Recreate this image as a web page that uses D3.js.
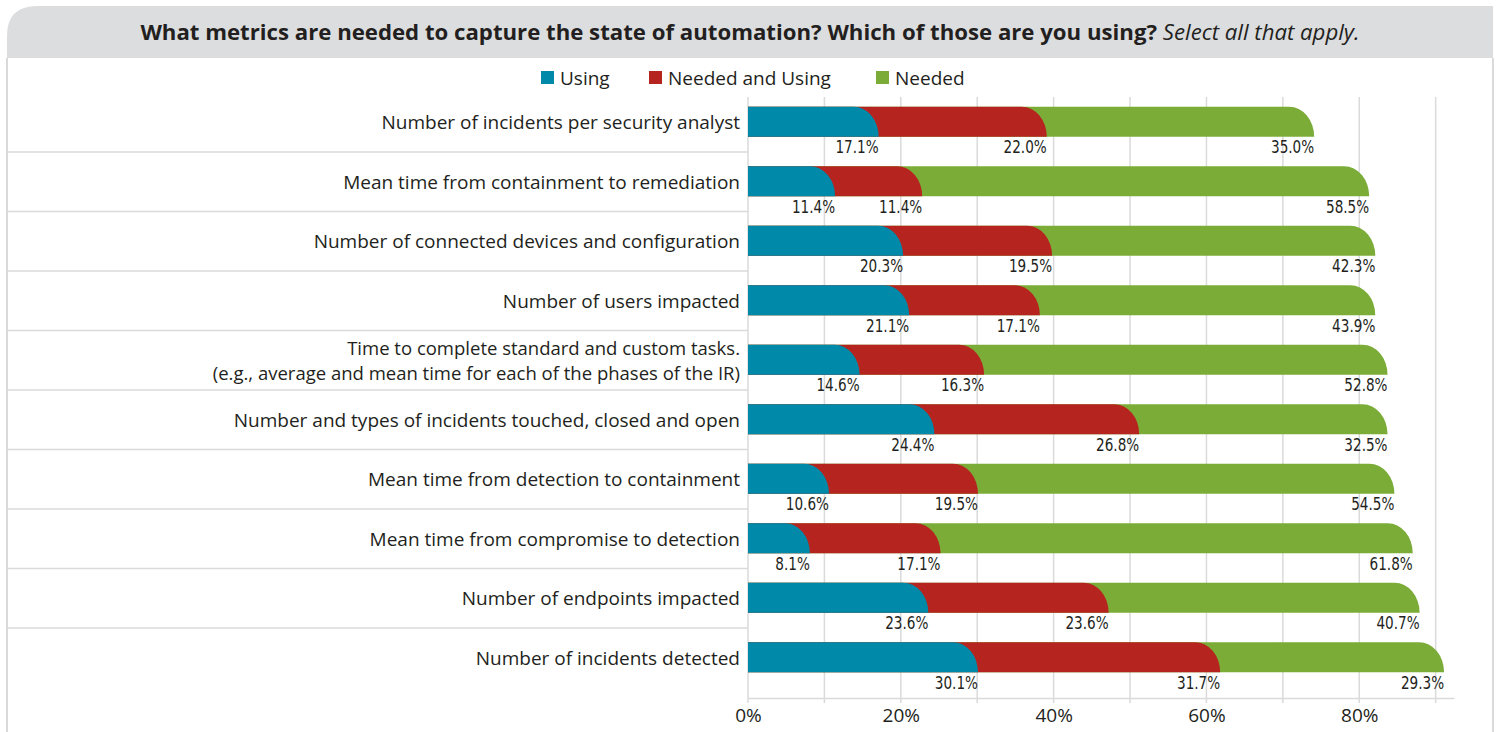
<!DOCTYPE html>
<html>
<head>
<meta charset="utf-8">
<script src="https://cdn.jsdelivr.net/npm/d3@7"></script>
<style>
  html, body { margin: 0; padding: 0; background: #ffffff; }
  svg { display: block; }
</style>
</head>
<body>
<svg id="chart" width="1499" height="732"></svg>
<script>
// Survey metrics, listed top to bottom
const categories = [
  "Number of incidents per security analyst",
  "Mean time from containment to remediation",
  "Number of connected devices and configuration",
  "Number of users impacted",
  "Time to complete standard and custom tasks.|(e.g., average and mean time for each of the phases of the IR)",
  "Number and types of incidents touched, closed and open",
  "Mean time from detection to containment",
  "Mean time from compromise to detection",
  "Number of endpoints impacted",
  "Number of incidents detected"
];
const seriesNames = ["Using", "Needed and Using", "Needed"];
const using          = [17.1, 11.4, 20.3, 21.1, 14.6, 24.4, 10.6, 8.1, 23.6, 30.1];
const neededAndUsing = [22.0, 11.4, 19.5, 17.1, 16.3, 26.8, 19.5, 17.1, 23.6, 31.7];
const needed         = [35.0, 58.5, 42.3, 43.9, 52.8, 32.5, 54.5, 61.8, 40.7, 29.3];
const tickValues = [0, 20, 40, 60, 80];
const gridValues = [0, 10, 20, 30, 40, 50, 60, 70, 80, 90];
const colors = ["#0089a8", "#b5241f", "#7aac37"];

const titleBold = "What metrics are needed to capture the state of automation? Which of those are you using?";
const titleItalic = "Select all that apply.";

const svg = d3.select("#chart");
const W = 1499, H = 732;
const textColor = "#231f20";
const frameColor = "#dadada";
const sansFont = "'Open Sans', 'Noto Sans', sans-serif";

// Frame: header band with a rounded top-left corner, side rules
const hx0 = 7, hx1 = 1493, hy0 = 6, hy1 = 58, r = 30;
svg.append("path")
  .attr("d", `M${hx0},${hy1} V${hy0 + r} Q${hx0},${hy0} ${hx0 + r},${hy0} H${hx1} V${hy1} Z`)
  .attr("fill", "#dcdddf");
svg.append("line").attr("x1", hx0).attr("x2", hx0).attr("y1", hy1).attr("y2", H)
  .attr("stroke", frameColor).attr("stroke-width", 2);
svg.append("line").attr("x1", hx1).attr("x2", hx1).attr("y1", hy1).attr("y2", H)
  .attr("stroke", frameColor).attr("stroke-width", 2);

// Title
const title = svg.append("text")
  .attr("x", 750).attr("y", 40)
  .attr("text-anchor", "middle")
  .attr("font-family", sansFont)
  .attr("font-size", 22.2)
  .attr("fill", textColor);
title.append("tspan").attr("font-weight", 700).text(titleBold + " ");
title.append("tspan").attr("font-style", "italic").text(titleItalic);

// Scales
const x = d3.scaleLinear().domain([0, 92.4]).range([748, 1454]);
const y = d3.scaleBand().domain(categories).range([92, 687]).padding(0);
const barH = 30;
const rx = 25;

// Gridlines
svg.append("g").selectAll("line").data(gridValues).join("line")
  .attr("x1", d => x(d)).attr("x2", d => x(d))
  .attr("y1", 97).attr("y2", 703)
  .attr("stroke", frameColor).attr("stroke-width", 1.5);

// Row separators in the label column
svg.append("g").selectAll("line").data(categories.slice(0, -1)).join("line")
  .attr("x1", hx0).attr("x2", x(0))
  .attr("y1", d => y(d) + y.bandwidth() + 0.5).attr("y2", d => y(d) + y.bandwidth() + 0.5)
  .attr("stroke", frameColor).attr("stroke-width", 1.5);

// X axis
const axis = d3.axisBottom(x).tickValues(tickValues).tickFormat(d => d + "%").tickSize(0).tickPadding(11);
const gx = svg.append("g").attr("transform", "translate(0,698)").call(axis);
gx.select(".domain").attr("stroke", frameColor).attr("stroke-width", 1.5);
gx.selectAll("text")
  .attr("font-family", sansFont)
  .attr("font-size", 19)
  .attr("fill", textColor);

// Stacked data
const rows = categories.map((c, i) => ({ cat: c, vals: [using[i], neededAndUsing[i], needed[i]] }));
const segments = [];
rows.forEach(rw => {
  let cum = 0;
  rw.vals.forEach((v, k) => {
    segments.push({ cat: rw.cat, k, v, end: cum + v });
    cum += v;
  });
});

// Each segment runs from the axis to its cumulative end with a rounded cap;
// later series are drawn first so earlier caps sit on top.
function capPath(d) {
  const top = y(d.cat) + (y.bandwidth() - barH) / 2;
  const bot = top + barH;
  const x0 = x(0), x1 = x(d.end);
  return `M${x0},${top} H${x1 - rx} A${rx},${barH} 0 0 1 ${x1},${bot} H${x0} Z`;
}
svg.append("g").selectAll("path")
  .data(segments.slice().sort((a, b) => b.k - a.k))
  .join("path")
  .attr("d", capPath)
  .attr("fill", d => colors[d.k]);

// Value labels under each segment end (narrow figures)
svg.append("g").selectAll("text").data(segments).join("text")
  .attr("transform", d => `translate(${x(d.end)},${y(d.cat) + (y.bandwidth() + barH) / 2 + 16.5}) scale(0.84,1)`)
  .attr("text-anchor", "end")
  .attr("font-family", "'Liberation Sans Narrow', 'DejaVu Sans Condensed', sans-serif")
  .attr("font-size", 18)
  .attr("fill", textColor)
  .text(d => d.v.toFixed(1) + "%");

// Category labels (one text element per line)
const labelG = svg.append("g");
categories.forEach(d => {
  const lines = d.split("|");
  const multi = lines.length > 1;
  const fs = multi ? 18.5 : 19;
  const lh = 25.2;
  const cy = y(d) + y.bandwidth() / 2 + 1;
  lines.forEach((ln, j) => {
    labelG.append("text")
      .attr("x", 740)
      .attr("y", cy + (j - (lines.length - 1) / 2) * lh)
      .attr("dy", "0.35em")
      .attr("text-anchor", "end")
      .attr("font-family", sansFont)
      .attr("font-size", fs)
      .attr("fill", textColor)
      .text(ln);
  });
});

// Legend
const legendItems = [
  { name: seriesNames[0], sx: 541 },
  { name: seriesNames[1], sx: 649 },
  { name: seriesNames[2], sx: 876 }
];
const lg = svg.append("g");
legendItems.forEach((it, i) => {
  lg.append("rect").attr("x", it.sx).attr("y", 71).attr("width", 13).attr("height", 13).attr("fill", colors[i]);
  lg.append("text").attr("x", it.sx + 19).attr("y", 78).attr("dy", "0.35em")
    .attr("font-family", sansFont)
    .attr("font-size", 19).attr("fill", textColor).text(it.name);
});
</script>
</body>
</html>
